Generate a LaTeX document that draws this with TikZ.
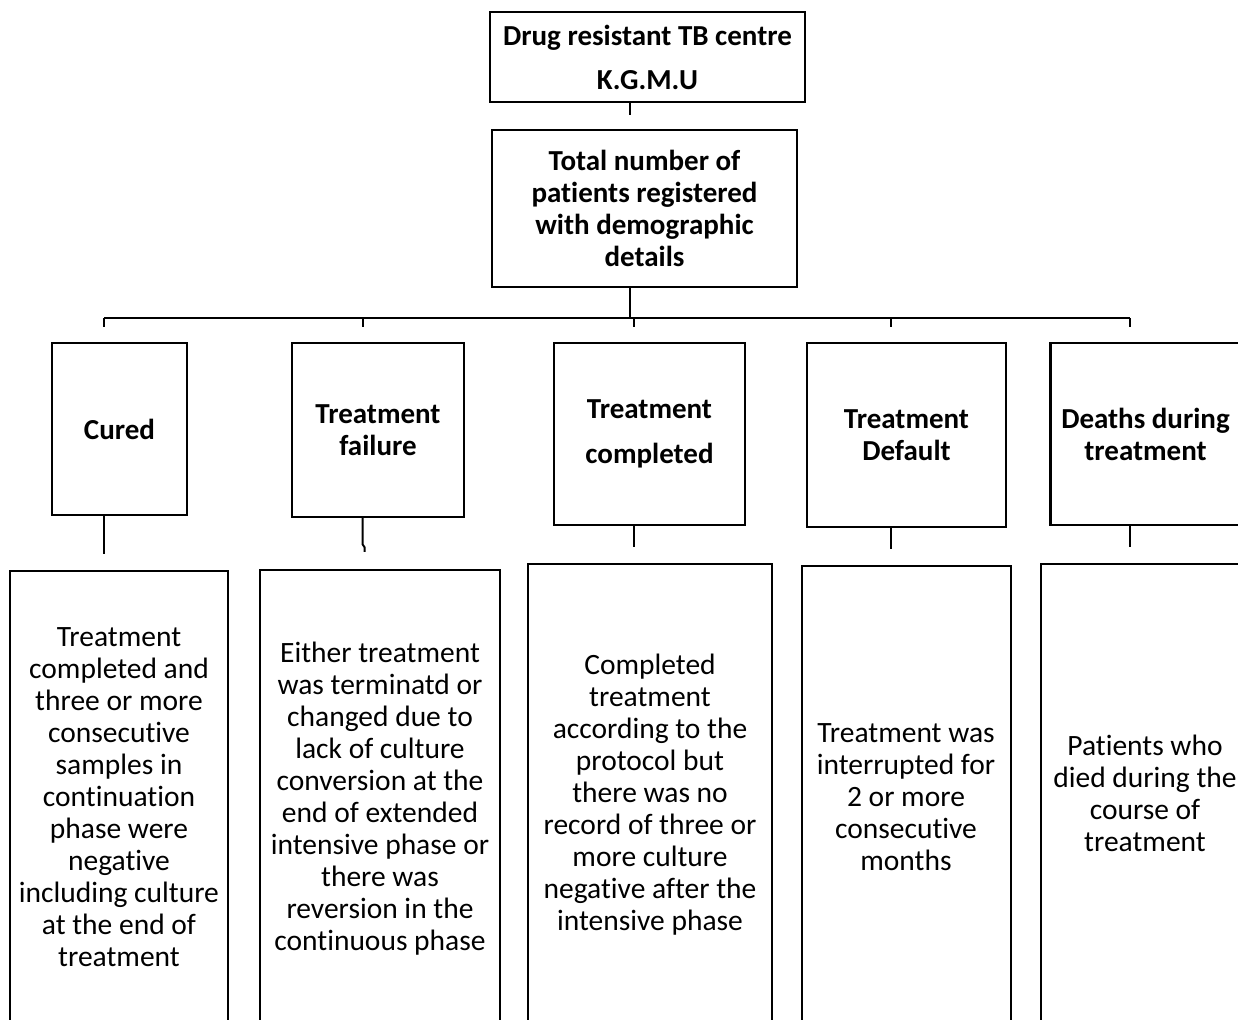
\documentclass[tikz,border=0pt]{standalone}
\usepackage{fontspec}
\setmainfont[Ligatures=NoCommon,RawFeature={-liga;-clig}]{Carlito}
\usetikzlibrary{calc}
\tikzset{
  box/.style={draw, line width=2.4pt, inner sep=0pt, align=center},
  head/.style={font=\fontsize{29}{32}\selectfont\bfseries},
  body/.style={font=\fontsize{29.5}{32}\selectfont, align=center, inner sep=0pt},
  link/.style={line width=2pt},
}
\begin{document}
\begin{tikzpicture}[x=1pt,y=-1pt]
\clip (0,0) rectangle (1238,1019);
\fill[white] (0,0) rectangle (1238,1019);
% top level
\node[box, font=\fontsize{29}{44}\selectfont\bfseries, minimum width=315pt, minimum height=90pt] (top) at (647.5,57) {Drug resistant TB centre\\K.G.M.U};
\node[box, head, minimum width=305pt, minimum height=157pt] (tot) at (644.5,208.5) {Total number of\\patients registered\\with demographic\\details};
% outcome boxes
\node[box, head, minimum width=135pt, minimum height=172pt] (c1) at (119.5,429) {Cured};
\node[box, head, minimum width=172pt, minimum height=174pt] (c2) at (378,430) {Treatment\\failure};
\node[box, font=\fontsize{29}{45}\selectfont\bfseries, minimum width=191pt, minimum height=182pt] (c3) at (649.5,434) {Treatment\\completed};
\node[box, head, minimum width=199pt, minimum height=184pt] (c4) at (906.5,435) {Treatment\\Default};
\node[box, head, minimum width=190pt, minimum height=182pt] (c5) at (1145.5,434) {Deaths during\\treatment};
% definition boxes
\node[box, minimum width=218pt, minimum height=469pt] (d1) at (119,805.5) {};
\node[box, minimum width=240pt, minimum height=470pt] (d2) at (380,805) {};
\node[box, minimum width=244pt, minimum height=476pt] (d3) at (650,802) {};
\node[box, minimum width=209pt, minimum height=474pt] (d4) at (906.5,803) {};
\node[box, minimum width=209pt, minimum height=476pt] (d5) at (1145.5,802) {};
% texts
\node[body] (t1) at (119,797) {Treatment\\completed and\\three or more\\consecutive\\samples in\\continuation\\phase were\\negative\\including culture\\at the end of\\treatment};
\node[body] (t2) at (380,798.5) {Either treatment\\was terminatd or\\changed due to\\lack of culture\\conversion at the\\end of extended\\intensive phase or\\there was\\reversion in the\\continuous phase};
\node[body] (t3) at (650,795) {Completed\\treatment\\according to the\\protocol but\\there was no\\record of three or\\more culture\\negative after the\\intensive phase};
\node[body] (t4) at (906,797.5) {Treatment was\\interrupted for\\2 or more\\consecutive\\months};
\node[body] (t5) at (1145,793.5) {Patients who\\died during the\\course of\\treatment};
% connectors
\coordinate (bj) at (630,318);
\draw[link] (top.south -| bj) -- ++(0,12);
\draw[link] (tot.south -| bj) -- (bj);
\foreach \i in {1,...,5} {
  \coordinate (u\i) at ($(c\i.north)+(-15.5,0)$);
  \coordinate (s\i) at ($(c\i.south)+(-15.5,0)$);
}
\draw[link] (u1 |- bj) -- (u5 |- bj);
\foreach \i in {1,...,5} {
  \draw[link] (u\i |- bj) -- ++(0,9);
}
\foreach \i in {1,3,4,5} {
  \draw[link, shorten >=16pt] (s\i) -- (s\i |- d\i.north);
}
\draw[link] (s2) -- ++(0,26) -- ++(2,3) -- ($(s2 |- d2.north)+(2,-17)$);
\end{tikzpicture}
\end{document}
